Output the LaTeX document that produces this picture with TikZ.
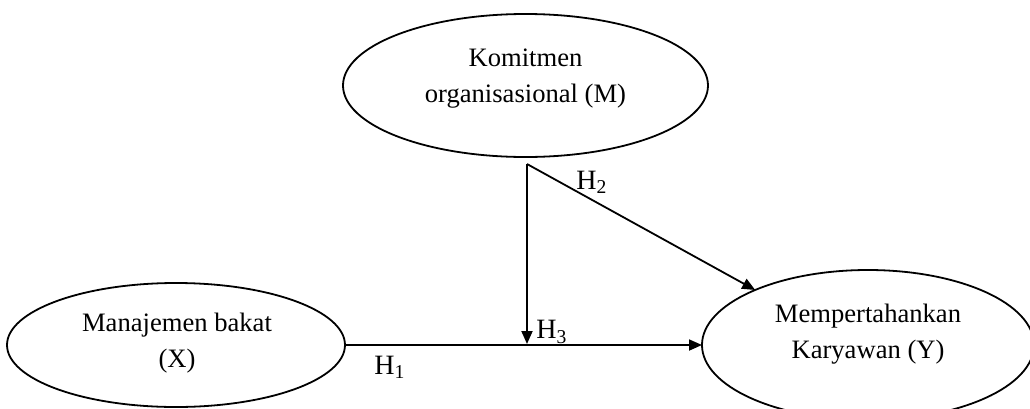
\documentclass[tikz,border=0pt]{standalone}
\usepackage{fontspec}
\setmainfont{Liberation Serif}
\usetikzlibrary{shapes.geometric,arrows.meta}
\begin{document}
\begin{tikzpicture}[x=0.5pt,y=-0.5pt,
  ell/.style={draw,ellipse,line width=0.9pt,inner sep=0pt,outer sep=0pt},
  txt/.style={align=center,inner sep=0pt,font=\fontsize{13.3}{18}\selectfont},
  hlab/.style={inner sep=0pt,font=\fontsize{14}{16}\selectfont},
  conn/.style={line width=0.9pt,-{Triangle[length=6.5pt,width=5.5pt]}}]
\useasboundingbox (0,0) rectangle (1030,408);
\node[ell,minimum width=182.5pt,minimum height=71.5pt] (M) at (525.5,85.5) {};
\node[ell,minimum width=169pt,minimum height=62pt] (X) at (176,345) {};
\node[ell,minimum width=166pt,minimum height=75pt] (Y) at (868,345) {};
\node[txt] (Mt) at (525.5,79) {Komitmen\\organisasional (M)};
\node[txt] (Xt) at (177,343) {Manajemen bakat\\(X)};
\node[txt] (Yt) at (868,334) {Mempertahankan\\Karyawan (Y)};
\coordinate (m) at (527,164);
\coordinate (h3) at (527,344);
\draw[conn] (X.east) -- (Y.west);
\draw[conn] (m) -- (h3);
\draw[conn] (m) -- (Y.154);
\node[hlab] (H1) at (390,367) {H\textsubscript{1}};
\node[hlab] (H2) at (592,182) {H\textsubscript{2}};
\node[hlab] (H3) at (552,332) {H\textsubscript{3}};
\end{tikzpicture}
\end{document}
